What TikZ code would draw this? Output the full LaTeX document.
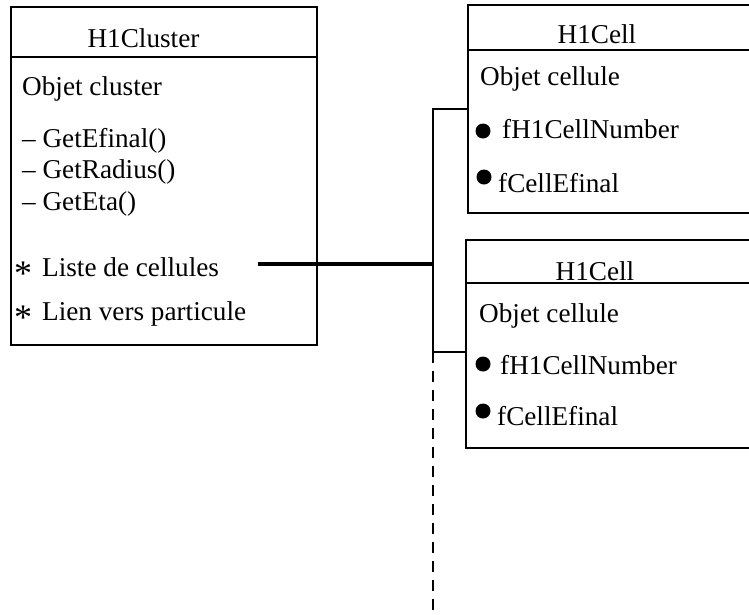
\documentclass[tikz,border=0pt]{standalone}
\usepackage{fontspec}
\setmainfont{Liberation Serif}
\begin{document}
\begin{tikzpicture}[x=1pt,y=-1pt,
  box/.style={draw,line width=1.3pt,rectangle,anchor=north west,inner sep=0pt,outer sep=0pt},
  txt/.style={anchor=base west,inner sep=0pt,font=\fontsize{27.2pt}{32pt}\selectfont},
  ttl/.style={anchor=base,inner sep=0pt,font=\fontsize{27.2pt}{32pt}\selectfont},
  dot/.style={circle,fill,inner sep=0pt,minimum size=15pt},
  ast/.style={inner sep=0pt,font=\fontsize{36pt}{40pt}\selectfont},
  wire/.style={line width=1.3pt},
  bold wire/.style={line width=4pt}]
\useasboundingbox (0,0) rectangle (749,614);
% boxes
\node[box,minimum width=306pt,minimum height=338pt] (cluster) at (11,7) {};
\node[box,minimum width=290pt,minimum height=208pt] (cell1) at (468,5) {};
\node[box,minimum width=292pt,minimum height=208pt] (cell2) at (466,240) {};
% dividers
\draw[wire] ([yshift=-50pt]cluster.north west) -- ([yshift=-50pt]cluster.north east);
\draw[wire] ([yshift=-45pt]cell1.north west) -- ([yshift=-45pt]cell1.north east);
\draw[wire] ([yshift=-43pt]cell2.north west) -- ([yshift=-43pt]cell2.north east);
% cluster texts
\node[ttl] (ctitle) at (143.5,47) {H1Cluster};
\node[txt] (cobj) at (22,95) {Objet cluster};
\node[txt] (m1) at (22,147) {– GetEfinal()};
\node[txt] (m2) at (22,178) {– GetRadius()};
\node[txt] (m3) at (22,210) {– GetEta()};
\node[ast] (a1) at (23,274) {*};
\node[txt] (liste) at (42,276) {Liste de cellules};
\node[ast] (a2) at (23,318) {*};
\node[txt] (lien) at (42,320) {Lien vers particule};
% cell 1 texts
\node[ttl] (c1title) at (597,43) {H1Cell};
\node[txt] (c1obj) at (480,85) {Objet cellule};
\node[dot] (c1d1) at (483,131) {};
\node[txt] (c1n) at (502,138) {fH1CellNumber};
\node[dot] (c1d2) at (484,177) {};
\node[txt] (c1e) at (498,192) {fCellEfinal};
% cell 2 texts
\node[ttl] (c2title) at (595,280) {H1Cell};
\node[txt] (c2obj) at (479,322) {Objet cellule};
\node[dot] (c2d1) at (483,364) {};
\node[txt] (c2n) at (500,374) {fH1CellNumber};
\node[dot] (c2d2) at (483,411) {};
\node[txt] (c2e) at (497,425) {fCellEfinal};
% connectors
\coordinate (lend) at (258,264);
\coordinate (bjoin) at (433,264);
\coordinate (btop) at (433,109);
\coordinate (bmid) at (433,352);
\coordinate (bend) at (433,612);
\draw[bold wire] (lend) -- (bjoin);
\draw[wire] (btop -| cell1.west) -- (btop) -- (bmid) -- (bmid -| cell2.west);
\draw[wire,dash pattern=on 11pt off 8pt] (bmid) -- (bend);
\end{tikzpicture}
\end{document}
